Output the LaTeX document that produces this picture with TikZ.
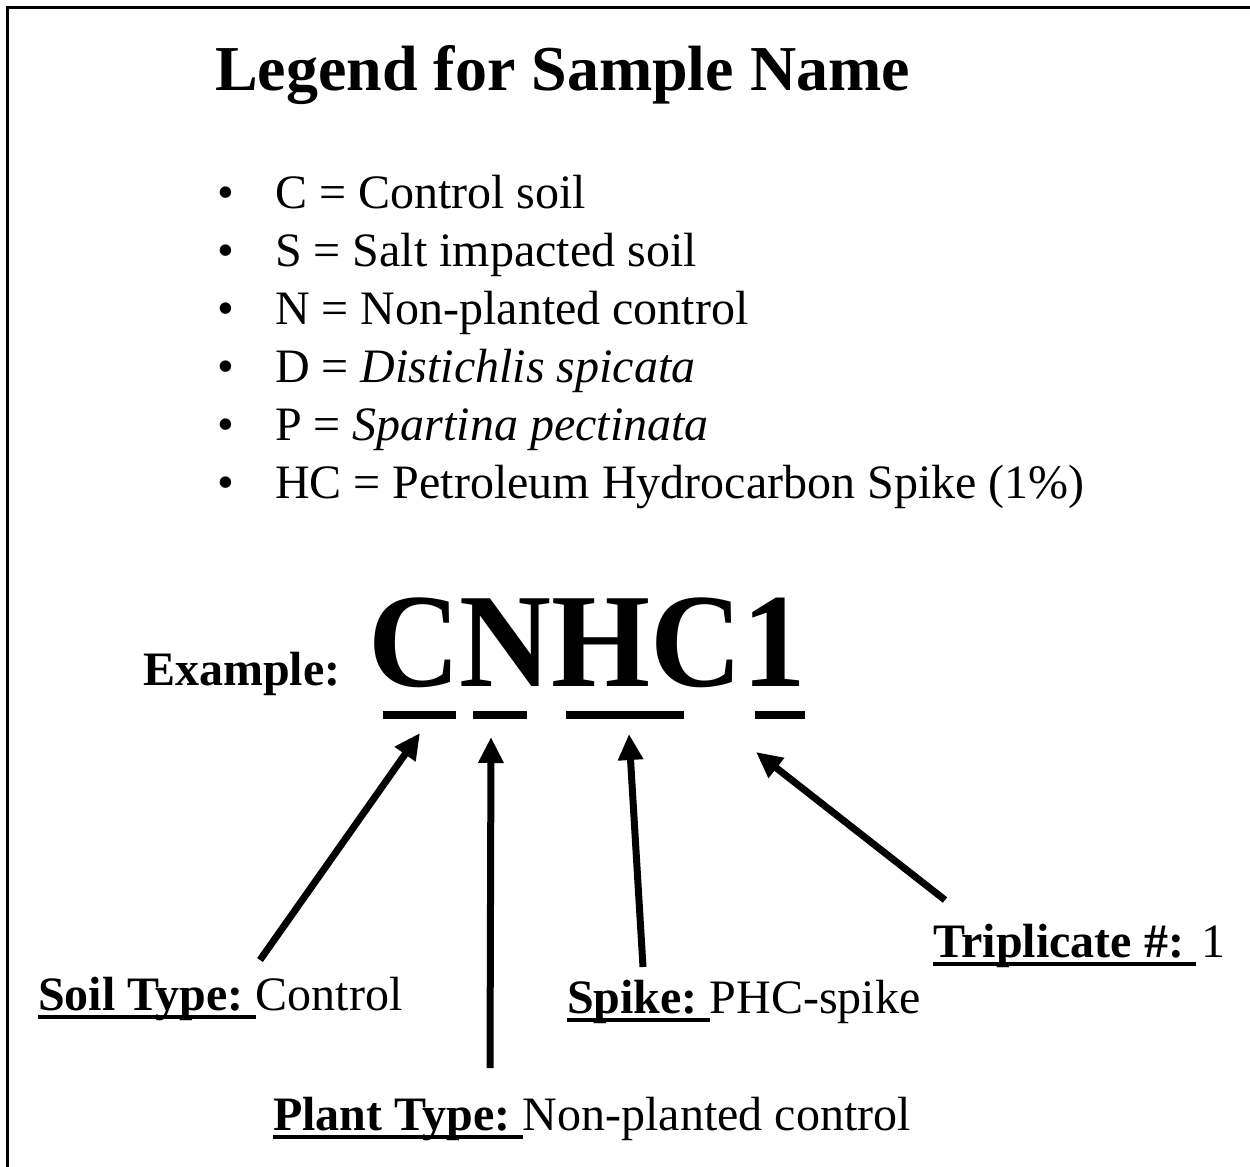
\documentclass[tikz,border=0pt]{standalone}
\usepackage{fontspec}
\setmainfont{Liberation Serif}
\newfontfamily\codefont[FakeStretch=0.95]{Liberation Serif}
\usetikzlibrary{arrows.meta}
\tikzset{
  txt/.style={anchor=base west, inner sep=0pt, outer sep=0pt},
  bar/.style={line width=8pt},
  pointer/.style={line width=7pt, -{Triangle[length=26pt,width=24pt]}},
  uline/.style={line width=4pt},
}
\newcommand{\bodyfont}{\fontsize{48}{58}\selectfont}
\newcommand{\labfont}{\fontsize{48}{56}\selectfont}
\begin{document}
\begin{tikzpicture}[x=1pt,y=-1pt]
\useasboundingbox (0,0) rectangle (1250,1167);
\draw[line width=3pt] (7,1167) -- (7,7) -- (1250,7);
% title
\node[txt] (title) at (215,90) {\fontsize{64}{70}\selectfont\bfseries Legend for Sample Name};
% bullets
\foreach \y/\t [count=\i] in {208/{C = Control soil},266/{S = Salt impacted soil},324/{N = Non-planted control},382/{D = \textit{Distichlis spicata}},440/{P = \textit{Spartina pectinata}},498/{HC = Petroleum Hydrocarbon Spike (1\%)}}{
  \node[txt] (b\i) at (217,\y) {\bodyfont •};
  \node[txt] (t\i) at (275,\y) {\bodyfont \t};
}
% example
\node[txt] (ex) at (143,685) {\fontsize{48}{58}\selectfont\bfseries Example:};
\node[txt] (code) at (368,686) {\codefont\fontsize{134}{140}\selectfont\bfseries CNHC1};
% bars
\draw[bar] (383,715) coordinate (s1w) -- (456,715) coordinate (s1e);
\draw[bar] (473,715) coordinate (s2w) -- (527,715) coordinate (s2e);
\draw[bar] (566,715) coordinate (s3w) -- (684,715) coordinate (s3e);
\draw[bar] (755,715) coordinate (s4w) -- (805,715) coordinate (s4e);
% labels
\node[txt] (soilk) at (38,1010) {\labfont\bfseries Soil Type:\kern0.25em};
\node[txt] (soilv) at (soilk.base east) {\labfont Control};
\draw[uline] ([yshift=-7pt]soilk.base west) -- ([yshift=-7pt]soilk.base east);
\node[txt] (plantk) at (273,1130) {\labfont\bfseries Plant Type:\kern0.25em};
\node[txt] (plantv) at (plantk.base east) {\labfont Non-planted control};
\draw[uline] ([yshift=-7pt]plantk.base west) -- ([yshift=-7pt]plantk.base east);
\node[txt] (spikek) at (567,1013) {\labfont\bfseries Spike:\kern0.25em};
\node[txt] (spikev) at (spikek.base east) {\labfont PHC-spike};
\draw[uline] ([yshift=-7pt]spikek.base west) -- ([yshift=-7pt]spikek.base east);
\node[txt] (tripk) at (933,957) {\labfont\bfseries Triplicate \#:\kern0.25em};
\node[txt] (tripv) at ([xshift=5pt]tripk.base east) {\labfont 1};
\draw[uline] ([yshift=-7pt]tripk.base west) -- ([yshift=-7pt]tripk.base east);
% arrows
\coordinate (a1s) at (260,960);
\coordinate (a1e) at (420,733);
\coordinate (a2s) at (490,1068);
\coordinate (a2e) at (491,737);
\coordinate (a3s) at (643,967);
\coordinate (a3e) at (629,734);
\coordinate (a4s) at (945,900);
\coordinate (a4e) at (756,752);
\draw[pointer] (a1s) -- (a1e);
\draw[pointer] (a2s) -- (a2e);
\draw[pointer] (a3s) -- (a3e);
\draw[pointer] (a4s) -- (a4e);
\end{tikzpicture}
\end{document}
